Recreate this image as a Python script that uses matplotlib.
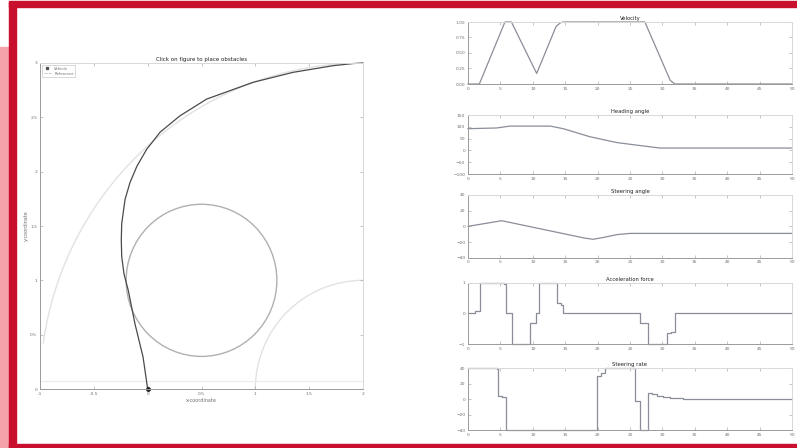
import matplotlib
matplotlib.use("Agg")
import matplotlib.pyplot as plt
from matplotlib.patches import Circle, Arc, Rectangle
from matplotlib.lines import Line2D

# ---------------- data ----------------
# vehicle trajectory (x, y)
traj_x = [0.0, -0.043, -0.118, -0.18, -0.22, -0.241, -0.245, -0.241, -0.21, -0.164,
          -0.10, -0.009, 0.115, 0.30, 0.548, 0.978, 1.35, 1.72, 1.907, 2.0]
traj_y = [0.0, 0.295, 0.60, 0.907, 1.06, 1.218, 1.37, 1.523, 1.745, 1.90,
          2.05, 2.206, 2.363, 2.514, 2.668, 2.822, 2.914, 2.975, 2.995, 3.0]
obst_center = (0.5, 1.0)
obst_radius = 0.7
road_center = (2.0, 0.0)
road_outer_r = 3.0
road_inner_r = 1.0
ref_x = [-1.0, 2.0]
ref_y = [0.075, 0.075]
left_xticks = [-1, -0.5, 0, 0.5, 1, 1.5, 2]
left_yticks = [0, 0.5, 1, 1.5, 2, 2.5, 3]

t_xticks = list(range(0, 55, 5))

vel_t = [0, 1.75, 5.7, 6.7, 10.6, 13.6, 14.3, 14.8, 27.3, 31.2, 31.9, 50]
vel_v = [0, 0, 1, 1, 0.17, 0.93, 0.99, 1, 1, 0.06, 0, 0]

head_t = [0, 4.4, 6.5, 12.7, 14.7, 18.8, 23.0, 27.0, 29.6, 50]
head_v = [92, 95, 103, 103, 92, 58, 33, 19, 10, 10]

steer_t = [0, 5.2, 18.0, 19.3, 21.0, 23.0, 25.0, 50]
steer_v = [0, 7.2, -15.0, -16.5, -14.0, -10.5, -9.0, -9.0]

acc_t = [0, 1.08, 1.85, 5.5, 5.9, 6.74, 9.57, 10.5, 11.0, 13.7, 14.3, 14.7,
         26.5, 27.8, 30.7, 31.3, 31.9, 50]
acc_v = [0, 0.08, 1, 0.95, 0, -1, -0.3, 0, 1, 0.33, 0.27, 0,
         -0.33, -1, -0.65, -0.6, 0, 0]

rate_t = [0, 4.42, 4.68, 5.2, 5.86, 19.86, 20.6, 21.1, 25.7, 26.5, 27.8,
          28.4, 29.1, 30.1, 31.2, 33.2, 50]
rate_v = [40, 38.7, 4.3, 2.2, -40, 30, 34.4, 40, -2, -40, 8.6,
          7, 4.3, 2.5, 1, 0, 0]

# ---------------- style ----------------
W, H = 797, 448
fig = plt.figure(figsize=(W / 100, H / 100), dpi=100)
fig.patch.set_facecolor("white")

TICK_FS = 3.2
TXT = "#707070"
AX_C = "#9a9a9a"
BOX_C = "#d8d8d8"
LINE_C = "#8a8e98"


def style(ax):
    for s in ("left", "bottom"):
        ax.spines[s].set_color(AX_C)
        ax.spines[s].set_linewidth(0.7)
    for s in ("top", "right"):
        ax.spines[s].set_color(BOX_C)
        ax.spines[s].set_linewidth(0.7)
    ax.tick_params(direction="in", length=2, width=0.4, colors=AX_C,
                   labelcolor=TXT, labelsize=TICK_FS, pad=2,
                   top=True, right=True)


def fr(px_l, px_t, px_r, px_b):
    return [px_l / W, 1 - px_b / H, (px_r - px_l) / W, (px_b - px_t) / H]


# ---------------- left plot ----------------
ax = fig.add_axes(fr(40, 63, 363, 389))
style(ax)
ax.add_patch(Arc(road_center, 2 * road_outer_r, 2 * road_outer_r, theta1=90, theta2=172,
                 color="#e2e2e2", lw=1.0))
ax.add_patch(Arc(road_center, 2 * road_inner_r, 2 * road_inner_r, theta1=90, theta2=180,
                 color="#e2e2e2", lw=1.0))
ax.plot(ref_x, ref_y, color="#ececec", lw=0.8)
ax.add_patch(Circle(obst_center, obst_radius, fill=False, ec="#b0b0b0", lw=1.0))
ax.plot(traj_x, traj_y, color="#4a4a4a", lw=0.9, clip_on=False)
ax.plot([traj_x[0]], [traj_y[0]], marker="o", color="#222222", ms=2.5, clip_on=False)
ax.set_xlim(-1, 2)
ax.set_ylim(0, 3)
ax.set_xticks(left_xticks)
ax.set_yticks(left_yticks)
ax.set_xticklabels([str(v) for v in left_xticks])
ax.set_yticklabels([str(v) for v in left_yticks])
ax.set_title("Click on figure to place obstacles", fontsize=4, color="#222222", pad=1.5)
ax.set_xlabel("x-coordinate", fontsize=3.5, color=TXT, labelpad=1.5)
ax.set_ylabel("y-coordinate", fontsize=3.5, color=TXT, labelpad=1)
h1 = Line2D([], [], marker="s", color="#555555", ls="none", ms=2)
h2 = Line2D([], [], color="#bbbbbb", ls="--", lw=0.6)
leg = ax.legend([h1, h2], ["Vehicle", "Reference"], loc="upper left", fontsize=2.8,
                frameon=True, fancybox=False, borderpad=0.4, handlelength=2,
                labelspacing=0.3, borderaxespad=0.5)
leg.get_frame().set_edgecolor("#bbbbbb")
leg.get_frame().set_linewidth(0.5)
for t in leg.get_texts():
    t.set_color(TXT)

# ---------------- right plots ----------------
rows = [
    ("Velocity", 22, 84, vel_t, vel_v, (0, 1), [0, 0.25, 0.5, 0.75, 1], False),
    ("Heading angle", 115, 174, head_t, head_v, (-100, 150), [-100, -50, 0, 50, 100, 150], False),
    ("Steering angle", 195, 257.7, steer_t, steer_v, (-40, 40), [-40, -20, 0, 20, 40], False),
    ("Acceleration force", 282.7, 344, acc_t, acc_v, (-1, 1), [-1, 0, 1], True),
    ("Steering rate", 368.3, 430, rate_t, rate_v, (-40, 40), [-40, -20, 0, 20, 40], True),
]
for title, top, bot, tt, vv, ylim, yt, is_step in rows:
    a = fig.add_axes(fr(468, top, 792, bot))
    style(a)
    if is_step:
        a.step(tt, vv, where="post", color=LINE_C, lw=0.9, clip_on=False)
    else:
        a.plot(tt, vv, color=LINE_C, lw=0.9, clip_on=False)
    a.set_xlim(0, 50)
    a.set_ylim(*ylim)
    a.set_xticks(t_xticks)
    a.set_yticks(yt)
    a.set_title(title, fontsize=3.8, color="#222222", pad=1.5)

# ---------------- frame decoration ----------------
RED = "#c8102e"
fig.patches.append(Rectangle((0, 0), 9 / W, 1 - 47 / H, transform=fig.transFigure,
                             color="#f4a3ab", zorder=0))
fig.patches.append(Rectangle((9 / W, 1 - 7 / H), 1 - 9 / W, 5.5 / H, transform=fig.transFigure,
                             color=RED, zorder=5))
fig.patches.append(Rectangle((9 / W, 0), 6.5 / W, 1 - 2 / H, transform=fig.transFigure,
                             color=RED, zorder=5))
fig.patches.append(Rectangle((9 / W, 0), 1 - 9 / W, 4 / H, transform=fig.transFigure,
                             color=RED, zorder=5))

fig.savefig("out.png", dpi=100, facecolor="white")
